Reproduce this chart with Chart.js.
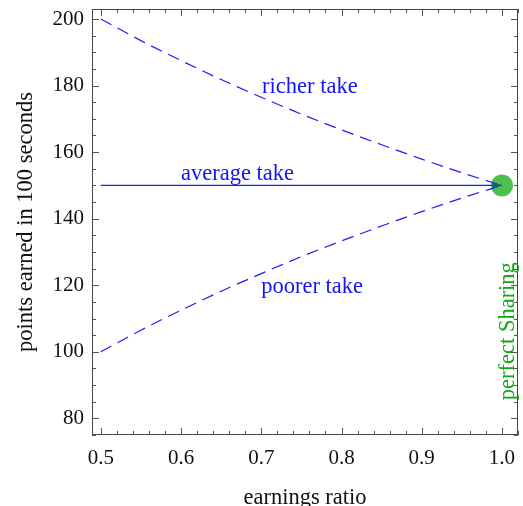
<!DOCTYPE html>
<html>
<head>
<meta charset="utf-8">
<script src="https://cdn.jsdelivr.net/npm/chart.js@4/dist/chart.umd.min.js"></script>
<style>
  html, body { margin: 0; padding: 0; background: #fff; }
  #wrap { position: relative; width: 523px; height: 506px; }
</style>
</head>
<body>
<div id="wrap"><canvas id="chart"></canvas></div>
<script>
// earnings ratio on x, points earned in 100 seconds on y
const ratio = [0.5, 0.55, 0.6, 0.65, 0.7, 0.75, 0.8, 0.85, 0.9, 0.95, 1.0];
const richerTake = [200, 193.5, 187.5, 181.8, 176.5, 171.4, 166.7, 162.2, 157.9, 153.8, 150];
const poorerTake = [100, 106.5, 112.5, 118.2, 123.5, 128.6, 133.3, 137.8, 142.1, 146.2, 150];
const averageX = [0.5, 1.0];
const averageTake = [150, 150];
const sharingPoint = { x: 1.0, y: 150 };

const xTicks = [0.5, 0.6, 0.7, 0.8, 0.9, 1.0];
const yTicks = [80, 100, 120, 140, 160, 180, 200];
const xMinorStep = 0.02;
const yMinorStep = 5;

const labels = [
    { text: 'richer take', x: 0.701, y: 179.4, color: '#1414f4' },
    { text: 'average take', x: 0.6, y: 153.4, color: '#1414f4' },
    { text: 'poorer take', x: 0.7, y: 119.5, color: '#1414f4' }
];

const serif = '"Liberation Serif", "DejaVu Serif", serif';
const blue = '#1c1cff';
const green = 'rgb(78, 192, 78)';

const toPoints = (xs, ys) => xs.map((x, i) => ({ x: x, y: ys[i] }));

// frame, inward ticks on all four sides, text labels
const framePlugin = {
    id: 'frame',
    afterDatasetsDraw(chart) {
        const { ctx, chartArea: a, scales } = chart;
        const xs = scales.x, ys = scales.y;
        ctx.save();

        // arrow head at the end of the average line
        const ax = xs.getPixelForValue(averageX[1]);
        const ay = ys.getPixelForValue(averageTake[1]);
        ctx.fillStyle = '#17607a';
        ctx.beginPath();
        ctx.moveTo(ax + 1, ay);
        ctx.lineTo(ax - 11, ay - 3.5);
        ctx.lineTo(ax - 8, ay);
        ctx.lineTo(ax - 11, ay + 3.5);
        ctx.closePath();
        ctx.fill();

        ctx.strokeStyle = '#555';
        ctx.lineWidth = 1;
        const tick = (x1, y1, x2, y2) => {
            ctx.beginPath();
            ctx.moveTo(x1, y1);
            ctx.lineTo(x2, y2);
            ctx.stroke();
        };
        const isMajor = (v, list) => list.some(t => Math.abs(t - v) < 1e-6);

        for (let v = 0.5; v <= xs.max + 1e-9; v += xMinorStep) {
            const px = Math.round(xs.getPixelForValue(v)) + 0.5;
            const len = isMajor(v, xTicks) ? 7 : 4;
            tick(px, a.bottom, px, a.bottom - len);
            tick(px, a.top, px, a.top + len);
        }
        for (let v = ys.min + (yMinorStep - ys.min % yMinorStep) % yMinorStep; v <= ys.max; v += yMinorStep) {
            const py = Math.round(ys.getPixelForValue(v)) + 0.5;
            const len = isMajor(v, yTicks) ? 7 : 4;
            tick(a.left, py, a.left + len, py);
            tick(a.right, py, a.right - len, py);
        }

        ctx.strokeStyle = '#444';
        ctx.strokeRect(a.left + 0.5, a.top + 0.5, a.right - a.left - 1, a.bottom - a.top - 1);

        // curve labels
        ctx.font = '22.5px ' + serif;
        ctx.textBaseline = 'middle';
        ctx.textAlign = 'left';
        labels.forEach(l => {
            ctx.fillStyle = l.color;
            ctx.fillText(l.text, xs.getPixelForValue(l.x), ys.getPixelForValue(l.y));
        });

        // perfect sharing label, vertical
        ctx.save();
        ctx.translate(xs.getPixelForValue(1.0075), ys.getPixelForValue(106.2));
        ctx.rotate(-Math.PI / 2);
        ctx.textAlign = 'center';
        ctx.fillStyle = '#12a812';
        ctx.fillText('perfect Sharing', 0, 0);
        ctx.restore();

        // axis titles
        ctx.fillStyle = '#111';
        ctx.font = '22.5px ' + serif;
        ctx.textAlign = 'center';
        ctx.fillText('earnings ratio', (a.left + a.right) / 2, 498);
        ctx.save();
        ctx.translate(26, 222);
        ctx.rotate(-Math.PI / 2);
        ctx.fillText('points earned in 100 seconds', 0, 0);
        ctx.restore();

        ctx.restore();
    }
};

new Chart(document.getElementById('chart'), {
    type: 'scatter',
    data: {
        datasets: [
            {
                label: 'perfect Sharing',
                data: [sharingPoint],
                pointRadius: 11,
                pointHoverRadius: 11,
                backgroundColor: green,
                borderWidth: 0,
                order: 3
            },
            {
                label: 'richer take',
                data: toPoints(ratio, richerTake),
                showLine: true,
                borderColor: blue,
                borderWidth: 1.2,
                borderDash: [12, 7],
                cubicInterpolationMode: 'monotone',
                pointRadius: 0,
                order: 1
            },
            {
                label: 'poorer take',
                data: toPoints(ratio, poorerTake),
                showLine: true,
                borderColor: blue,
                borderWidth: 1.2,
                borderDash: [12, 7],
                cubicInterpolationMode: 'monotone',
                pointRadius: 0,
                order: 1
            },
            {
                label: 'average take',
                data: toPoints(averageX, averageTake),
                showLine: true,
                borderColor: blue,
                borderWidth: 1.2,
                pointRadius: 0,
                order: 1
            }
        ]
    },
    options: {
        responsive: true,
        maintainAspectRatio: false,
        animation: false,
        layout: { autoPadding: false, padding: { left: 0, top: 9, right: 5, bottom: 0 } },
        plugins: {
            legend: { display: false },
            tooltip: { enabled: false }
        },
        scales: {
            x: {
                type: 'linear',
                min: 0.489,
                max: 1.02,
                grid: { display: false, drawTicks: false },
                border: { display: false },
                afterFit: (s) => {
                    s.height = 71;
                    s.paddingLeft = 0;
                    s.paddingRight = 0;
                },
                afterBuildTicks: (s) => { s.ticks = xTicks.map(v => ({ value: v })); },
                ticks: {
                    padding: 11,
                    color: '#111',
                    font: { family: serif, size: 21 },
                    callback: (v) => v.toFixed(1)
                }
            },
            y: {
                type: 'linear',
                min: 75,
                max: 203,
                grid: { display: false, drawTicks: false },
                border: { display: false },
                afterFit: (s) => {
                    s.width = 92;
                    s.paddingTop = 0;
                    s.paddingBottom = 0;
                },
                afterBuildTicks: (s) => { s.ticks = yTicks.map(v => ({ value: v })); },
                ticks: {
                    padding: 8,
                    color: '#111',
                    font: { family: serif, size: 21 },
                    callback: (v) => String(v)
                }
            }
        }
    },
    plugins: [framePlugin]
});
</script>
</body>
</html>
